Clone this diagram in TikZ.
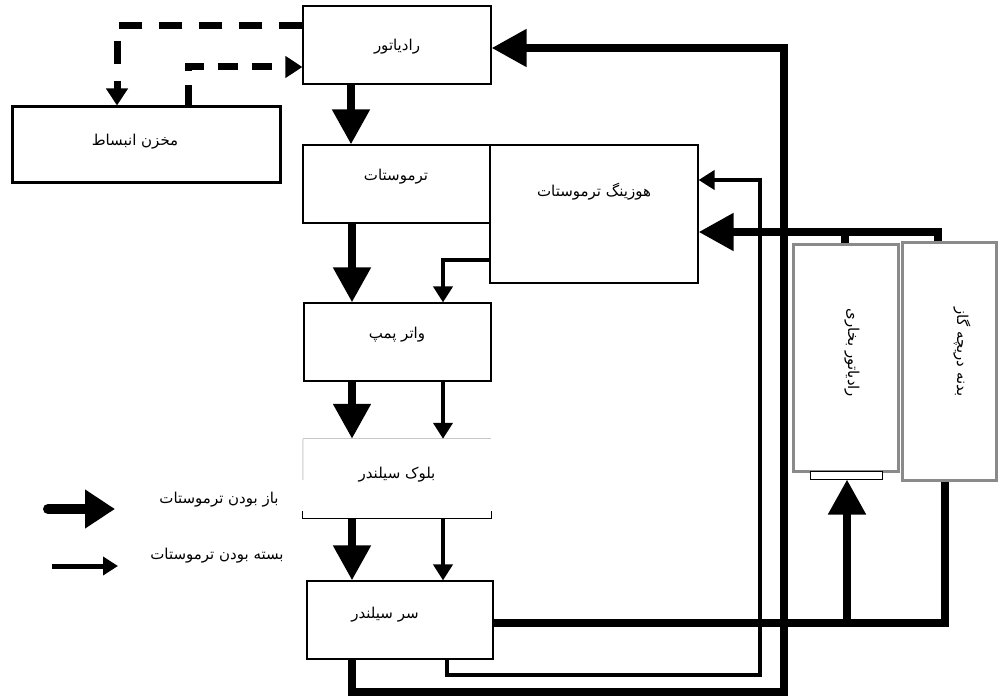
\documentclass[tikz,border=0pt]{standalone}
\usepackage{fontspec}
\TeXXeTstate=1
\newfontfamily\fa[Script=Arabic]{DejaVu Sans}
\newcommand\fatx[1]{\fa\beginR #1\endR}
\usetikzlibrary{arrows.meta,calc}
\definecolor{boxgray}{HTML}{8A8A8A}
\definecolor{faint}{HTML}{C8C8C8}
\begin{document}
\begin{tikzpicture}[x=1pt,y=-1pt,
  box/.style={draw,line width=1.2pt,fill=white,inner sep=0pt},
  graybox/.style={draw=boxgray,line width=3pt,fill=white,inner sep=0pt},
  lab/.style={font=\fontsize{15}{18}\selectfont,inner sep=1pt},
  bigflow/.style={line width=8pt,line join=miter,-{Triangle[length=35pt,width=36pt]}},
  smallflow/.style={line width=4.5pt,line join=miter,-{Triangle[length=16pt,width=19pt]}},
  pipe/.style={line width=8pt,line join=miter},
  dashflow/.style={line width=7pt,dash pattern=on 23pt off 17pt,-{Triangle[length=17pt,width=21pt]}}
]
\useasboundingbox (0,0) rectangle (998,700);

% boxes
\node[box,minimum width=188pt,minimum height=78pt] (rad) at (397,45) {};
\node[box,line width=3pt,minimum width=268pt,minimum height=76pt] (tank) at (146,145) {};
\node[box,minimum width=208pt,minimum height=138pt] (housing) at (594,214) {};
\node[box,minimum width=187pt,minimum height=78pt] (thermo) at (396.5,184) {};
\node[box,minimum width=187pt,minimum height=78pt] (pump) at (397.5,342) {};
\node[inner sep=0pt,minimum width=188pt,minimum height=79pt] (block) at (397,478.5) {};
\draw[faint,line width=1pt] (block.south west |- block.north) -- (block.north east);
\draw[faint,line width=1pt] (block.north west) -- ($(block.north west)!0.52!(block.south west)$);
\draw[line width=1.2pt] ($(block.south west)+(0,-7)$) -- (block.south west) -- (block.south east) -- ($(block.south east)+(0,-7)$);
\node[box,minimum width=186pt,minimum height=78pt] (head) at (400,620) {};
\node[graybox,minimum width=105pt,minimum height=226pt] (heater) at (845.5,358) {};
\node[draw,line width=1pt,fill=white,inner sep=0pt,minimum width=72pt,minimum height=8pt] (brk) at (846,475) {};
\node[graybox,minimum width=94pt,minimum height=237pt] (bypass) at (949,361.5) {};

% labels
\node[lab] (radT) at (397,47) {\fatx{رادیاتور}};
\node[lab] (tankT) at (135,142) {\fatx{مخزن انبساط}};
\node[lab] (thermoT) at (396,177) {\fatx{ترموستات}};
\node[lab] (housingT) at (594,192) {\fatx{هوزینگ ترموستات}};
\node[lab] (pumpT) at (397,335) {\fatx{واتر پمپ}};
\node[lab] (blockT) at (397,475) {\fatx{بلوک سیلندر}};
\node[lab] (headT) at (385,615) {\fatx{سر سیلندر}};
\node[lab,rotate=-90] (heaterT) at (852,353) {\fatx{رادیاتور بخاری}};
\node[lab,rotate=-90] (bypassT) at (962,352) {\fatx{بدنه دریچه گاز}};

% dashed expansion-tank lines
\draw[dashflow] (rad.west |- 0,26) -| (tank.north -| 117,0);
\draw[dashflow,dash pattern=on 20pt off 14pt] (tank.north -| 188,0) |- (rad.west |- 0,67);

% main column
\draw[bigflow] (rad.south -| 351,0) -- (thermo.north -| 351,0);
\draw[bigflow] (thermo.south -| 352,0) -- (pump.north -| 352,0);
\draw[smallflow] (housing.west |- 0,260) -| (pump.north -| 443,0);
\draw[bigflow] (pump.south -| 352,0) -- (block.north -| 352,0);
\draw[smallflow] (pump.south -| 443,0) -- (block.north -| 443,0);
\draw[bigflow] (block.south -| 352,0) -- (head.north -| 352,0);
\draw[smallflow] (block.south -| 443,0) -- (head.north -| 443,0);

% return lines
\coordinate (c1) at (760,675);
\coordinate (c2) at (784,692);
\draw[smallflow] (head.south -| 447,0) |- (c1) |- (housing.east |- 0,180);
\draw[bigflow] (head.south -| 352,0) |- (c2) |- (rad.east |- 0,48);

% heater / throttle body lines
\draw[pipe] (head.east |- 0,623) -| (bypass.south -| 945,0);
\coordinate (j1) at (847,623);
\draw[bigflow] (j1) -- (brk.south -| 847,0);
\coordinate (j2) at (845,232);
\draw[pipe] (heater.north -| 845,0) -- (j2);
\draw[bigflow] (bypass.north -| 938,0) |- (housing.east |- 0,232);

% legend
\coordinate (l1a) at (48,509);
\coordinate (l1b) at (115,509);
\draw[line width=10pt,line cap=round,-{Triangle[length=30pt,width=37pt]}] (l1a) -- (l1b);
\node[lab] (l1t) at (219,500) {\fatx{باز بودن ترموستات}};
\coordinate (l2a) at (52,566);
\coordinate (l2b) at (118,566);
\draw[line width=5pt,-{Triangle[length=15pt,width=18pt]}] (l2a) -- (l2b);
\node[lab] (l2t) at (217,556) {\fatx{بسته بودن ترموستات}};
\end{tikzpicture}
\end{document}
